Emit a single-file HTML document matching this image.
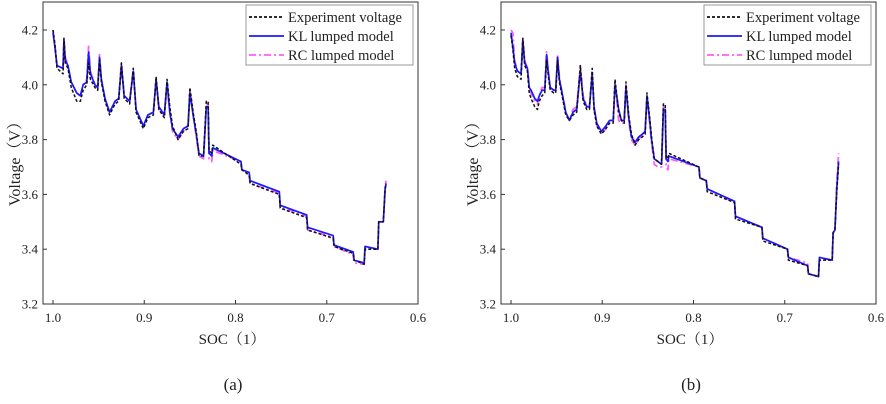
<!DOCTYPE html>
<html><head><meta charset="utf-8"><style>
html,body{margin:0;padding:0;background:#fff;width:886px;height:404px;overflow:hidden}
svg{display:block;font-family:"Liberation Serif","Noto Serif CJK SC",serif}
</style></head><body>
<svg id="fig" width="886" height="404" viewBox="0 0 886 404"></svg>
<script>
const xTicks=[1.0,0.9,0.8,0.7,0.6];
const xTickLabels=["1.0","0.9","0.8","0.7","0.6"];
const yTicks=[3.2,3.4,3.6,3.8,4.0,4.2];
const yTickLabels=["3.2","3.4","3.6","3.8","4.0","4.2"];
const socA=[1.0,0.998,0.9956,0.989,0.988,0.9865,0.9836,0.98,0.974,0.970,0.967,0.963,0.961,0.959,0.954,0.951,0.949,0.947,0.943,0.938,0.932,0.928,0.925,0.922,0.916,0.912,0.909,0.901,0.896,0.890,0.887,0.884,0.878,0.875,0.872,0.869,0.863,0.857,0.852,0.850,0.846,0.843,0.840,0.835,0.832,0.830,0.829,0.826,0.825,0.794,0.793,0.785,0.784,0.752,0.751,0.722,0.721,0.693,0.692,0.671,0.670,0.659,0.658,0.644,0.643,0.638,0.636,0.635];
const klA=[4.19,4.14,4.07,4.06,4.16,4.09,4.07,4.01,3.97,3.96,4.00,4.01,4.12,4.04,4.00,3.99,4.10,4.02,3.95,3.90,3.94,3.95,4.07,3.96,3.94,4.05,3.91,3.85,3.89,3.90,4.02,3.92,3.89,4.01,3.90,3.84,3.81,3.84,3.85,3.97,3.88,3.82,3.75,3.74,3.92,3.92,3.75,3.74,3.77,3.72,3.69,3.68,3.65,3.61,3.56,3.525,3.48,3.45,3.415,3.39,3.36,3.35,3.41,3.40,3.50,3.50,3.62,3.64];
const expA=[4.20,4.15,4.06,4.04,4.17,4.08,4.06,3.99,3.94,3.94,3.98,4.00,4.08,4.02,3.99,3.98,4.09,4.01,3.94,3.89,3.93,3.94,4.08,3.95,3.93,4.06,3.90,3.84,3.88,3.89,4.03,3.91,3.88,4.02,3.92,3.85,3.80,3.83,3.84,3.99,3.89,3.83,3.74,3.74,3.94,3.94,3.76,3.75,3.78,3.71,3.69,3.67,3.64,3.60,3.55,3.515,3.47,3.44,3.41,3.385,3.36,3.345,3.40,3.40,3.50,3.50,3.62,3.64];
const rcA=[4.20,4.15,4.07,4.06,4.17,4.10,4.07,4.01,3.97,3.96,4.00,4.02,4.14,4.05,4.00,3.99,4.11,4.02,3.95,3.90,3.94,3.95,4.08,3.96,3.94,4.06,3.91,3.85,3.89,3.90,4.01,3.91,3.89,4.00,3.90,3.83,3.80,3.83,3.85,3.98,3.88,3.81,3.74,3.73,3.93,3.93,3.73,3.72,3.76,3.72,3.69,3.67,3.64,3.605,3.555,3.52,3.47,3.445,3.41,3.38,3.35,3.345,3.41,3.40,3.50,3.50,3.63,3.65];
const socB=[1.0,0.998,0.996,0.993,0.989,0.987,0.985,0.982,0.980,0.978,0.974,0.971,0.969,0.966,0.963,0.961,0.959,0.957,0.953,0.951,0.949,0.947,0.944,0.940,0.936,0.932,0.928,0.924,0.921,0.917,0.914,0.911,0.909,0.906,0.901,0.896,0.892,0.888,0.886,0.882,0.879,0.876,0.874,0.871,0.868,0.864,0.860,0.856,0.853,0.851,0.848,0.846,0.843,0.839,0.835,0.833,0.831,0.830,0.828,0.827,0.794,0.793,0.786,0.785,0.755,0.754,0.725,0.724,0.697,0.696,0.675,0.674,0.663,0.662,0.648,0.647,0.645,0.643,0.641];
const klB=[4.19,4.14,4.08,4.05,4.04,4.16,4.08,4.06,3.99,3.98,3.95,3.94,3.96,3.98,3.98,4.11,4.04,3.99,3.98,3.98,4.10,4.02,3.97,3.90,3.87,3.90,3.91,4.05,3.95,3.92,3.92,4.04,3.92,3.86,3.83,3.85,3.87,3.87,4.00,3.91,3.87,3.87,3.99,3.88,3.81,3.79,3.81,3.82,3.83,3.96,3.87,3.80,3.73,3.72,3.71,3.91,3.91,3.73,3.72,3.74,3.70,3.66,3.65,3.62,3.575,3.52,3.48,3.44,3.40,3.37,3.34,3.31,3.30,3.37,3.36,3.46,3.47,3.62,3.72];
const expB=[4.18,4.13,4.06,4.03,4.02,4.17,4.07,4.05,3.97,3.95,3.92,3.91,3.94,3.96,3.97,4.09,4.03,3.98,3.97,3.97,4.09,4.01,3.96,3.89,3.87,3.89,3.90,4.07,3.94,3.91,3.91,4.06,3.91,3.85,3.82,3.84,3.86,3.86,4.02,3.90,3.87,3.86,4.01,3.89,3.82,3.78,3.80,3.81,3.82,3.97,3.88,3.81,3.73,3.72,3.71,3.93,3.93,3.74,3.73,3.75,3.70,3.66,3.65,3.61,3.57,3.51,3.48,3.43,3.40,3.36,3.34,3.31,3.30,3.36,3.36,3.46,3.47,3.61,3.71];
const rcB=[4.20,4.19,4.09,4.05,4.04,4.17,4.09,4.06,3.99,3.97,3.94,3.93,3.96,3.99,3.99,4.12,4.05,3.99,3.98,3.98,4.11,4.03,3.97,3.90,3.87,3.91,3.92,4.07,3.96,3.92,3.92,4.05,3.91,3.85,3.82,3.84,3.87,3.87,4.01,3.87,3.86,3.86,4.00,3.87,3.80,3.78,3.80,3.82,3.83,3.95,3.86,3.79,3.71,3.70,3.70,3.92,3.92,3.70,3.69,3.73,3.70,3.66,3.65,3.62,3.57,3.52,3.48,3.44,3.40,3.37,3.35,3.31,3.30,3.37,3.36,3.46,3.47,3.64,3.75];
const panelLabels=["(a)","(b)"];
const legendLabels=["Experiment voltage","KL lumped model","RC lumped model"];

const NS="http://www.w3.org/2000/svg";
const fig=document.getElementById('fig');
function mk(tag,attrs,parent,text){const e=document.createElementNS(NS,tag);for(const k in attrs)e.setAttribute(k,attrs[k]);if(text!==undefined)e.textContent=text;parent.appendChild(e);return e;}

function panel(off,soc,series,label,key){
  const g=mk('g',{transform:'translate('+off+',0)'},fig);
  
  
  const xs=v=>53+(1.0-v)/0.4*365;
  const ys=v=>304-(v-3.2)/1.0*274;
  const clip=mk('clipPath',{id:'clip'+key},g);
  mk('rect',{x:43,y:2,width:375,height:302},clip);
  const plot=mk('g',{'clip-path':'url(#clip'+key+')'},g);
  const styles=[
    {c:'#ff5cff',dash:'7,3,2,3',w:1.8,n:'rc-line'},
    {c:'#1a1aff',dash:'',w:1.7,n:'kl-line'},
    {c:'#111',dash:'3,2',w:1.5,n:'experiment-line'}];
  const order=[series[2],series[1],series[0]];
  order.forEach((vals,i)=>{
    const d=vals.map((v,j)=>(j?'L':'M')+xs(soc[j]).toFixed(2)+','+ys(v).toFixed(2)).join(' ');
    const p=mk('path',{d:d,fill:'none',stroke:styles[i].c,'stroke-width':styles[i].w,'stroke-dasharray':styles[i].dash,'stroke-linejoin':'round'},plot);
    
    
  });
  const box=mk('rect',{x:43,y:2,width:375,height:302,fill:'none',stroke:'#333','stroke-width':1},g);
  
  
  xTicks.forEach((t,i)=>{
    const x=xs(t);
    mk('line',{x1:x,y1:304,x2:x,y2:300,stroke:'#333'},g);
    const tx=mk('text',{x:x,y:322,'font-size':13,'text-anchor':'middle',fill:'#222'},g,xTickLabels[i]);
    
    
  });
  yTicks.forEach((t,i)=>{
    const y=ys(t);
    mk('line',{x1:43,y1:y,x2:47,y2:y,stroke:'#333'},g);
    const ty=mk('text',{x:38,y:y+4.5,'font-size':13,'text-anchor':'end',fill:'#222'},g,yTickLabels[i]);
    
    
  });
  const yt=mk('text',{x:0,y:0,'font-size':16,'text-anchor':'middle',fill:'#222',transform:'translate(20,160) rotate(-90)'},g,'Voltage（V）');
  
  
  const xt=mk('text',{x:232,y:344,'font-size':15,'text-anchor':'middle',fill:'#222'},g,'SOC（1）');
  
  
  const pl=mk('text',{x:233,y:390,'font-size':17,'text-anchor':'middle',fill:'#222'},g,label);
  
  
  const lg=mk('g',{},g);
  
  
  mk('rect',{x:246,y:5,width:167,height:60,fill:'#fff',stroke:'#999','stroke-width':1},lg);
  const ls=[styles[2],styles[1],styles[0]];
  legendLabels.forEach((t,i)=>{
    const y=17+i*19;
    mk('line',{x1:249,y1:y,x2:284,y2:y,stroke:ls[i].c,'stroke-width':1.7,'stroke-dasharray':ls[i].dash},lg);
    const lt=mk('text',{x:288,y:y+5,'font-size':14.5,fill:'#222'},lg,t);
    
    
  });
}
panel(0,socA,[expA,klA,rcA],panelLabels[0],'a');
panel(458,socB,[expB,klB,rcB],panelLabels[1],'b');
</script>
</body></html>
